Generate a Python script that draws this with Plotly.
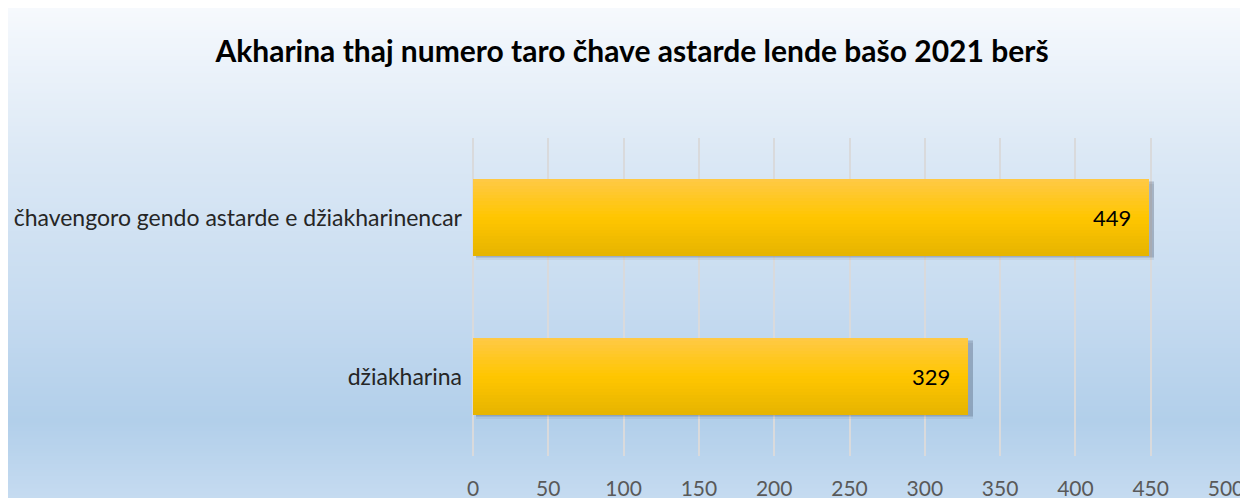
import base64, struct, zlib
import plotly.graph_objects as go

# ---- data ----
categories = ["džiakharina", "čhavengoro gendo astarde e džiakharinencar"]
values = [329, 449]
tick_vals = [0, 50, 100, 150, 200, 250, 300, 350, 400, 450, 500]
title_text = "Akharina thaj numero taro čhave astarde lende bašo 2021 berš"

# ---- layout geometry ----
W, H = 1248, 498
ML, MR, MT, MB = 465, 30, 130, 50
FONT = "Lato"

def lerp(a, b, t):
    return tuple(int(round(a[i] + (b[i] - a[i]) * t)) for i in range(3))

def grad_color(stops, t):
    for (t0, c0), (t1, c1) in zip(stops, stops[1:]):
        if t <= t1:
            return lerp(c0, c1, (t - t0) / (t1 - t0) if t1 > t0 else 0)
    return stops[-1][1]

def png_uri(stops, h):
    rows = b""
    for j in range(h):
        r, g, b = grad_color(stops, j / (h - 1))
        rows += b"\x00" + bytes([r, g, b])
    def chunk(tag, data):
        c = struct.pack(">I", len(data)) + tag + data
        return c + struct.pack(">I", zlib.crc32(tag + data) & 0xffffffff)
    png = b"\x89PNG\r\n\x1a\n" + chunk(b"IHDR", struct.pack(">IIBBBBB", 1, h, 8, 2, 0, 0, 0))
    png += chunk(b"IDAT", zlib.compress(rows)) + chunk(b"IEND", b"")
    return "data:image/png;base64," + base64.b64encode(png).decode()

bg_stops = [(0.0, (246, 249, 253)), (0.30, (219, 232, 245)), (0.60, (198, 219, 240)),
            (0.83, (178, 207, 234)), (1.0, (199, 220, 241))]
bg_uri = png_uri(bg_stops, 256)

pw = W - ML - MR
ph = H - MT - MB
def px_x(p):
    return (p - ML) / pw
def px_y(p):
    return (H - MB - p) / ph

fig = go.Figure()

bar_w = 0.478
# shadow layers
for dy, a in [(0.026, 0.07), (0.016, 0.11), (0.007, 0.12)]:
    fig.add_trace(go.Bar(
        y=categories, x=[v + 1.2 for v in values], orientation="h",
        width=bar_w, offset=-bar_w / 2 - dy, base=2,
        marker=dict(color=f"rgba(40,50,75,{a})", line=dict(width=0)),
        hoverinfo="skip", showlegend=False))

# gradient bar slices (top -> bottom)
bar_stops = [(0.0, (255, 201, 70)), (0.5, (255, 198, 0)), (1.0, (230, 180, 0))]
N = 24
sw = bar_w / N
for i in range(N):
    t = (i + 0.5) / N
    r, g, b = grad_color(bar_stops, t)
    off = bar_w / 2 - (i + 1) * sw
    fig.add_trace(go.Bar(
        y=categories, x=values, orientation="h",
        width=sw * 1.08, offset=off,
        marker=dict(color=f"rgb({r},{g},{b})", line=dict(width=0)),
        hoverinfo="skip", showlegend=False))

annotations = [dict(x=v, y=c, xref="x", yref="y", text=str(v), showarrow=False,
                    xanchor="right", xshift=-16,
                    font=dict(family=FONT, size=22, color="#000000"))
               for c, v in zip(categories, values)]

fig.update_layout(
    width=W, height=H,
    margin=dict(l=ML, r=MR, t=MT, b=MB, pad=0, autoexpand=False),
    paper_bgcolor="white", plot_bgcolor="rgba(0,0,0,0)",
    barmode="overlay", bargap=0,
    title=dict(text=f"<b>{title_text}</b>", x=0.5, xanchor="center",
               y=1 - 43 / H, yanchor="middle", yref="container", xref="container",
               font=dict(family=FONT, size=30, color="#000000")),
    xaxis=dict(range=[0, 500], tickvals=tick_vals, showgrid=True, gridcolor="#d9dadc",
               gridwidth=1.5, zeroline=True, zerolinecolor="#d9dadc", zerolinewidth=1.5,
               showline=False, ticks="", automargin=False,
               tickfont=dict(family=FONT, size=21, color="#595959"),
               ticklabelstandoff=18, fixedrange=True),
    yaxis=dict(categoryorder="array", categoryarray=categories, range=[-0.5, 1.5],
               showgrid=False, zeroline=False, showline=False, ticks="", automargin=False,
               tickfont=dict(family=FONT, size=23, color="#262626"),
               ticklabelstandoff=10, fixedrange=True),
    annotations=annotations,
    images=[dict(source=bg_uri, xref="paper", yref="paper",
                 x=px_x(0), y=px_y(0), sizex=px_x(W) - px_x(0),
                 sizey=px_y(0) - px_y(H), xanchor="left", yanchor="top",
                 sizing="stretch", layer="below")],
    showlegend=False,
)

fig.write_html("out.html")
